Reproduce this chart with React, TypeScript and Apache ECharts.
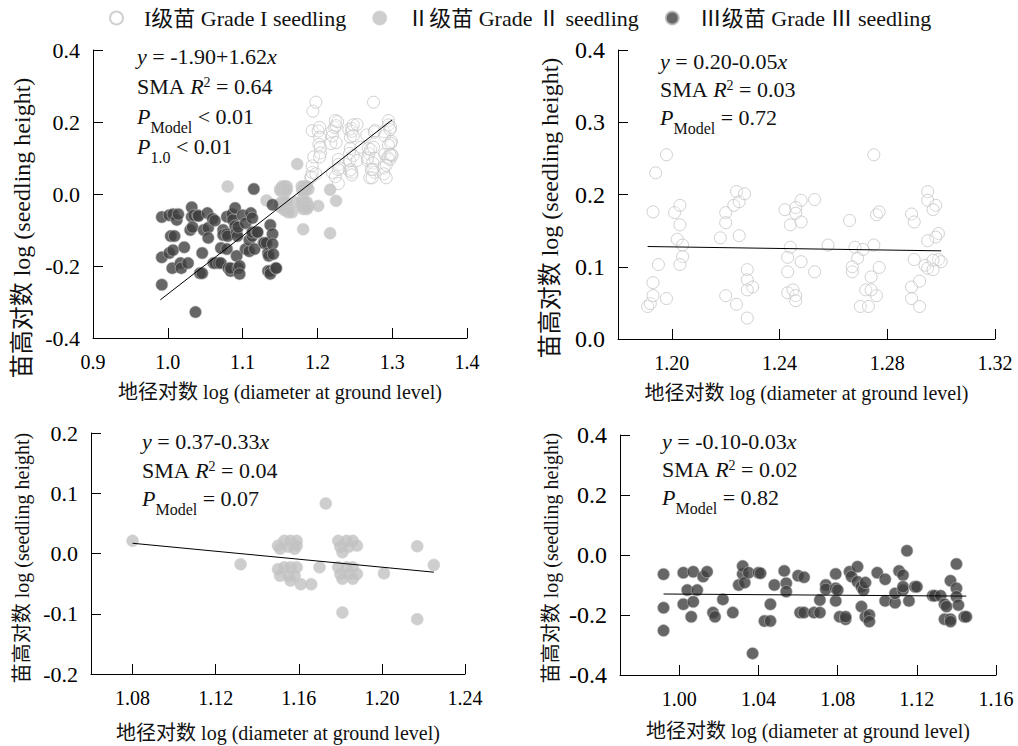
import React, { useEffect, useRef } from 'react';
import * as echarts from 'echarts';

const SERIF = "'Liberation Serif', 'Times New Roman', 'Noto Sans CJK SC', serif";

const legendNames = ['I级苗 Grade I seedling', 'Ⅱ级苗 Grade Ⅱ seedling', 'Ⅲ级苗 Grade Ⅲ seedling'];
const xTitle = '地径对数 log (diameter at ground level)';
const yTitle = '苗高对数 log (seedling height)';

// [log diameter, log height]
const gradeI: [number, number][] = [
  [1.191, 0.045], [1.192, 0.049], [1.193, 0.060], [1.193, 0.078], [1.195, 0.103], [1.193, 0.176], [1.194, 0.230], [1.198, 0.255],
  [1.198, 0.056], [1.201, 0.175], [1.203, 0.185], [1.203, 0.158], [1.202, 0.138], [1.204, 0.130], [1.204, 0.114], [1.203, 0.103],
  [1.218, 0.140], [1.220, 0.175], [1.220, 0.161], [1.223, 0.185], [1.224, 0.204], [1.225, 0.190], [1.227, 0.201], [1.225, 0.143],
  [1.220, 0.060], [1.224, 0.048], [1.228, 0.096], [1.228, 0.082], [1.230, 0.072], [1.228, 0.068], [1.228, 0.029],
  [1.242, 0.179], [1.244, 0.158], [1.246, 0.182], [1.246, 0.174], [1.248, 0.192], [1.248, 0.162], [1.244, 0.127], [1.243, 0.113],
  [1.243, 0.093], [1.248, 0.107], [1.253, 0.193], [1.253, 0.093], [1.258, 0.130], [1.243, 0.064], [1.245, 0.068], [1.246, 0.060], [1.246, 0.053],
  [1.266, 0.164], [1.268, 0.127], [1.269, 0.112], [1.267, 0.093], [1.267, 0.100], [1.271, 0.124], [1.275, 0.130], [1.275, 0.255],
  [1.276, 0.172], [1.277, 0.176], [1.277, 0.099], [1.274, 0.086], [1.272, 0.068], [1.276, 0.060], [1.270, 0.045], [1.273, 0.045], [1.274, 0.068],
  [1.289, 0.173], [1.290, 0.162], [1.295, 0.204], [1.295, 0.192], [1.298, 0.185], [1.297, 0.179], [1.299, 0.146], [1.298, 0.141],
  [1.295, 0.136], [1.290, 0.110], [1.294, 0.102], [1.295, 0.098], [1.297, 0.096], [1.299, 0.110], [1.300, 0.107], [1.289, 0.072],
  [1.292, 0.080], [1.289, 0.056], [1.292, 0.045], [1.297, 0.109],
];

const gradeII: [number, number][] = [
  [1.080, 0.021], [1.132, -0.018], [1.173, 0.083],
  [1.150, 0.013], [1.153, 0.021], [1.156, 0.021], [1.159, 0.021], [1.151, 0.008], [1.155, 0.011], [1.158, 0.008], [1.159, 0.013],
  [1.150, -0.026], [1.153, -0.023], [1.156, -0.023], [1.159, -0.023], [1.151, -0.037], [1.155, -0.037], [1.158, -0.037],
  [1.156, -0.045], [1.161, -0.051], [1.166, -0.051], [1.170, -0.023],
  [1.179, 0.021], [1.183, 0.021], [1.186, 0.021], [1.180, 0.011], [1.184, 0.011], [1.188, 0.013], [1.181, 0.002],
  [1.179, -0.023], [1.183, -0.023], [1.186, -0.023], [1.180, -0.034], [1.184, -0.034], [1.188, -0.034], [1.181, -0.042], [1.186, -0.042],
  [1.181, -0.098], [1.201, -0.033], [1.217, 0.012], [1.225, -0.019], [1.217, -0.109],
];

const gradeIII: [number, number][] = [
  [0.992, -0.064], [0.992, -0.176], [0.992, -0.252], [1.002, -0.059], [1.002, -0.164], [1.004, -0.117], [1.006, -0.206],
  [1.007, -0.156], [1.007, -0.056], [1.009, -0.117], [1.012, -0.072], [1.014, -0.056], [1.017, -0.192], [1.018, -0.206],
  [1.022, -0.148], [1.027, -0.192], [1.030, -0.100], [1.032, -0.063], [1.032, -0.037], [1.033, -0.092], [1.037, -0.328],
  [1.035, -0.059], [1.040, -0.059], [1.041, -0.061], [1.043, -0.220], [1.046, -0.220], [1.046, -0.164], [1.048, -0.100],
  [1.053, -0.053], [1.054, -0.094], [1.054, -0.122], [1.060, -0.069], [1.063, -0.074], [1.061, -0.192], [1.063, -0.192],
  [1.068, -0.192], [1.071, -0.192], [1.071, -0.150], [1.074, -0.100], [1.074, -0.114], [1.079, -0.063], [1.079, -0.111],
  [1.079, -0.153], [1.080, -0.117], [1.081, -0.206], [1.084, -0.214], [1.084, -0.206], [1.086, -0.056], [1.087, -0.072],
  [1.090, -0.039], [1.090, -0.089], [1.092, -0.106], [1.093, -0.117], [1.094, -0.092], [1.092, -0.172], [1.094, -0.206],
  [1.096, -0.200], [1.096, -0.222], [1.100, -0.059], [1.104, -0.081], [1.104, -0.153], [1.109, -0.159], [1.109, -0.128],
  [1.111, -0.053], [1.113, -0.067], [1.113, -0.117], [1.113, -0.106], [1.115, 0.014], [1.116, -0.153], [1.119, -0.106],
  [1.120, -0.106], [1.128, -0.136], [1.129, -0.136], [1.132, -0.136], [1.134, -0.164], [1.135, -0.172], [1.134, -0.214],
  [1.137, -0.214], [1.137, -0.086], [1.137, -0.222], [1.140, -0.030], [1.140, -0.111], [1.140, -0.139], [1.141, -0.167],
  [1.144, -0.206], [1.145, -0.206],
];

// SMA fit lines drawn in each panel (end points)
const fitAll: [number, number][] = [[0.99, -0.294], [1.30, 0.206]];
const fitI: [number, number][] = [[1.191, 0.128], [1.300, 0.122]];
const fitII: [number, number][] = [[1.080, 0.017], [1.225, -0.031]];
const fitIII: [number, number][] = [[0.992, -0.130], [1.145, -0.137]];

const xTicks1 = [0.9, 1.0, 1.1, 1.2, 1.3, 1.4];
const xTicks2 = [1.20, 1.24, 1.28, 1.32];
const xTicks3 = [1.08, 1.12, 1.16, 1.20, 1.24];
const xTicks4 = [1.00, 1.04, 1.08, 1.12, 1.16];

const styleI = { color: 'rgba(255,255,255,0.25)', borderColor: '#c4c4c4', borderWidth: 1 };
const styleII = { color: '#c2c2c2', borderColor: '#cdcdcd', borderWidth: 0.5 };
const styleIII = { color: '#404040', borderColor: '#bdbdbd', borderWidth: 0.7 };

function xAxis(gridIndex: number, min: number, max: number, ticks: number[], digits: number, nameGap: number) {
  return {
    type: 'value', gridIndex, min, max,
    name: xTitle, nameLocation: 'middle', nameGap,
    nameTextStyle: { fontFamily: SERIF, fontSize: 20, color: '#111' },
    axisLine: { show: true, onZero: false, lineStyle: { color: '#000', width: 1 } },
    axisTick: { show: true, inside: true, length: 10, customValues: ticks, lineStyle: { color: '#000', width: 1 } },
    axisLabel: {
      customValues: ticks, fontFamily: SERIF, fontSize: 20, color: '#000', margin: 14,
      formatter: (v: number) => v.toFixed(digits),
    },
    splitLine: { show: false },
  };
}

function yAxis(gridIndex: number, min: number, max: number, interval: number, fontSize: number) {
  return {
    type: 'value', gridIndex, min, max, interval,
    axisLine: { show: true, onZero: false, lineStyle: { color: '#000', width: 1 } },
    axisTick: { show: true, inside: true, length: 10, lineStyle: { color: '#000', width: 1 } },
    axisLabel: {
      fontFamily: SERIF, fontSize, color: '#000', margin: 13, showMinLabel: true, showMaxLabel: true,
      formatter: (v: number) => v.toFixed(1),
    },
    splitLine: { show: false },
  };
}

function scatter(name: string, data: [number, number][], idx: number, itemStyle: any) {
  return { type: 'scatter', name, data, xAxisIndex: idx, yAxisIndex: idx, symbol: 'circle', symbolSize: 12, itemStyle };
}

function fit(data: [number, number][], idx: number) {
  return {
    type: 'line', name: 'fit' + idx, data, xAxisIndex: idx, yAxisIndex: idx, symbol: 'none',
    lineStyle: { color: '#000', width: 1 }, z: 5,
  };
}

const rich = {
  n: { fontFamily: SERIF, fontSize: 22, lineHeight: 24, verticalAlign: 'top', fill: '#111' },
  i: { fontFamily: SERIF, fontSize: 22, lineHeight: 24, verticalAlign: 'top', fontStyle: 'italic', fill: '#111' },
  sup: { fontFamily: SERIF, fontSize: 14, lineHeight: 14, verticalAlign: 'top', fill: '#111' },
  sub: { fontFamily: SERIF, fontSize: 16, lineHeight: 16, verticalAlign: 'top', padding: [14, 0, 0, 0], fill: '#111' },
};

function annot(x: number, y: number, text: string) {
  return { type: 'text', x, y, z: 10, style: { text, rich, align: 'left', verticalAlign: 'top', fill: '#111' } };
}

function yTitleText(x: number, y: number, fontSize: number) {
  return {
    type: 'text', x, y, rotation: Math.PI / 2, z: 10,
    style: { text: yTitle, fontFamily: SERIF, fontSize, fill: '#111', align: 'center', verticalAlign: 'middle' },
  };
}

export default function App() {
  const ref = useRef<HTMLDivElement>(null);
  useEffect(() => {
    const chart = echarts.init(ref.current!, null, { renderer: 'svg' });
    const option: any = {
      animation: false,
      backgroundColor: '#fff',
      legend: {
        data: legendNames, left: 104, top: 2, itemWidth: 13, itemHeight: 13, itemGap: 26,
        textStyle: { fontFamily: SERIF, fontSize: 22, color: '#111', padding: [0, 0, 0, 16] },
      },
      grid: [
        { left: 93, top: 50, width: 374, height: 288 },
        { left: 618, top: 50, width: 377, height: 289 },
        { left: 91, top: 433, width: 374, height: 241 },
        { left: 620, top: 435, width: 376, height: 240 },
      ],
      xAxis: [
        xAxis(0, 0.9, 1.4, xTicks1, 1, 44),
        xAxis(1, 1.18, 1.32, xTicks2, 2, 44),
        xAxis(2, 1.06, 1.24, xTicks3, 2, 49),
        xAxis(3, 0.97, 1.16, xTicks4, 2, 46),
      ],
      yAxis: [
        yAxis(0, -0.4, 0.4, 0.2, 22),
        yAxis(1, 0, 0.4, 0.1, 24),
        yAxis(2, -0.2, 0.2, 0.1, 22),
        yAxis(3, -0.4, 0.4, 0.2, 24),
      ],
      series: [
        scatter(legendNames[0], gradeI, 0, styleI),
        scatter(legendNames[1], gradeII, 0, styleII),
        scatter(legendNames[2], gradeIII, 0, styleIII),
        fit(fitAll, 0),
        scatter(legendNames[0], gradeI, 1, styleI),
        fit(fitI, 1),
        scatter(legendNames[1], gradeII, 2, styleII),
        fit(fitII, 2),
        scatter(legendNames[2], gradeIII, 3, styleIII),
        fit(fitIII, 3),
      ],
      graphic: [
        annot(137, 45, '{i|y}{n| = -1.90+1.62}{i|x}'),
        annot(137, 75, '{n|SMA }{i|R}{sup|2}{n| = 0.64}'),
        annot(137, 105, '{i|P}{sub|Model}{n| < 0.01}'),
        annot(137, 135, '{i|P}{sub|1.0}{n| < 0.01}'),
        annot(660, 50, '{i|y}{n| = 0.20-0.05}{i|x}'),
        annot(660, 78, '{n|SMA }{i|R}{sup|2}{n| = 0.03}'),
        annot(660, 106, '{i|P}{sub|Model}{n| = 0.72}'),
        annot(142, 430, '{i|y}{n| = 0.37-0.33}{i|x}'),
        annot(142, 459, '{n|SMA }{i|R}{sup|2}{n| = 0.04}'),
        annot(142, 487, '{i|P}{sub|Model}{n| = 0.07}'),
        annot(662, 430, '{i|y}{n| = -0.10-0.03}{i|x}'),
        annot(662, 458, '{n|SMA }{i|R}{sup|2}{n| = 0.02}'),
        annot(662, 486, '{i|P}{sub|Model}{n| = 0.82}'),
        yTitleText(22, 228, 24),
        yTitleText(550, 208, 24),
        yTitleText(22, 558, 20),
        yTitleText(551, 558, 20),
      ],
    };
    chart.setOption(option);
    return () => chart.dispose();
  }, []);
  return (
    <div
      ref={ref}
      style={{ position: 'fixed', left: 0, top: 0, width: 1018, height: 746, background: '#fff' }}
    />
  );
}
